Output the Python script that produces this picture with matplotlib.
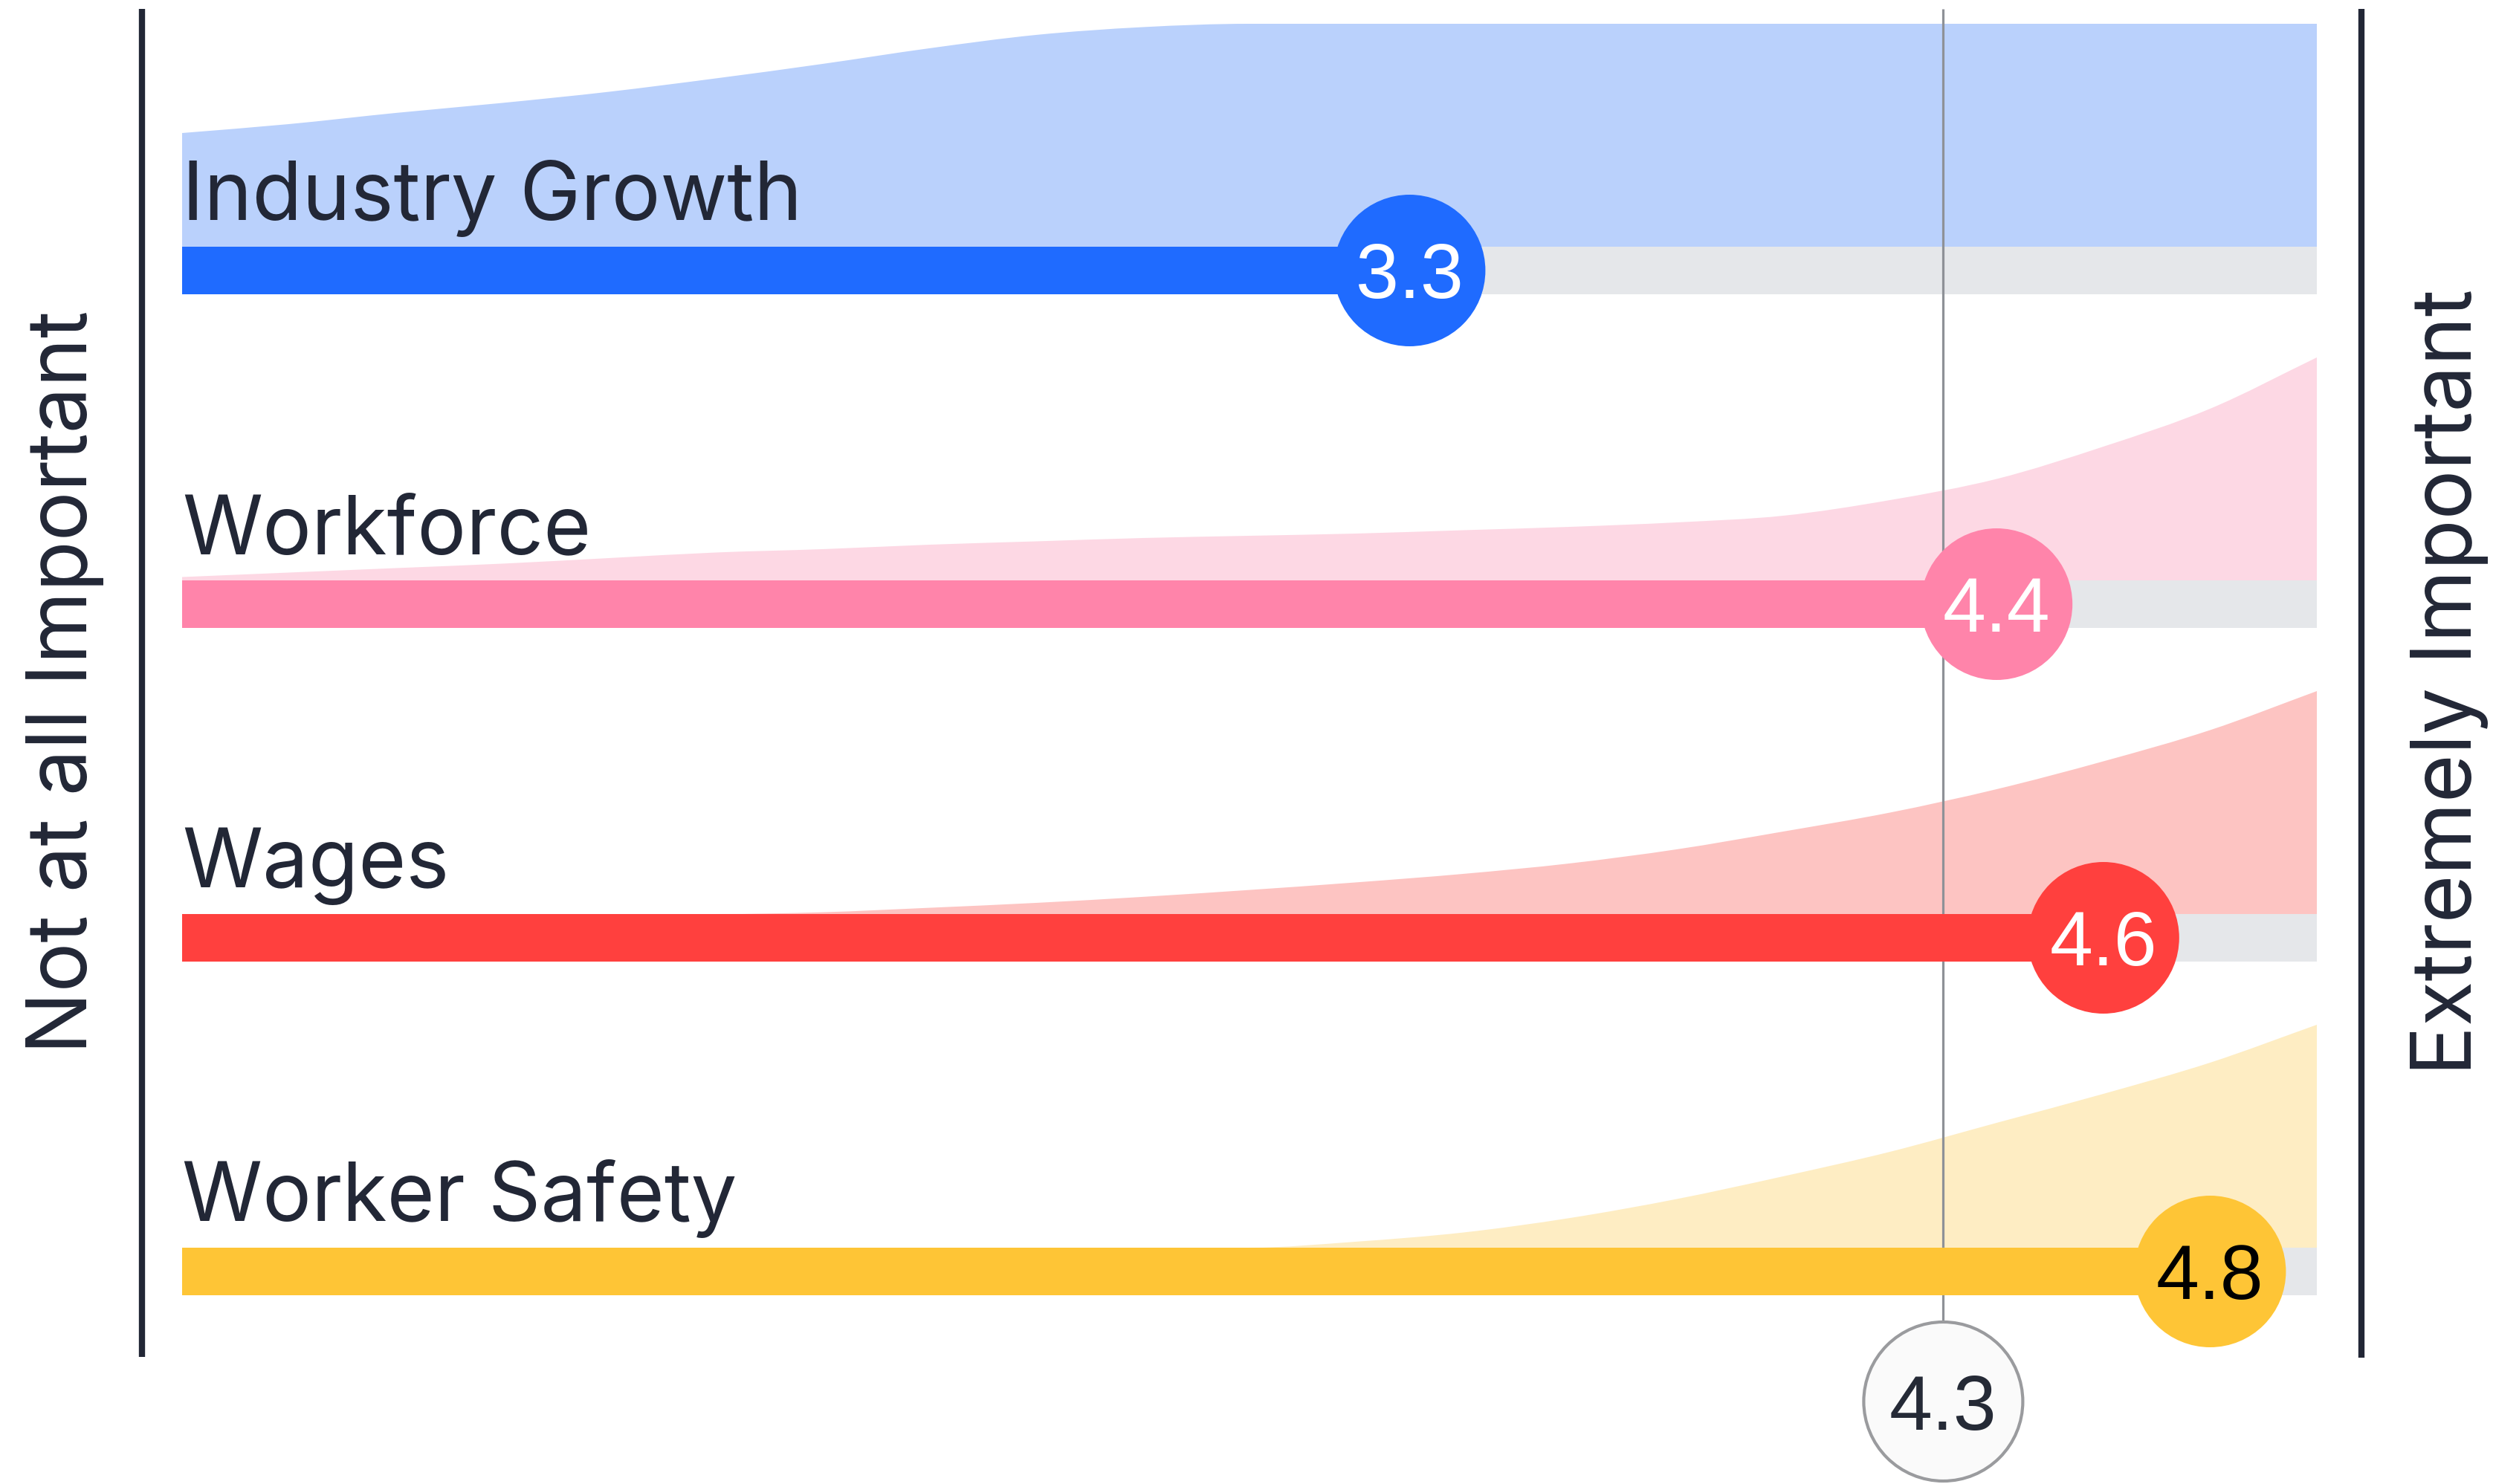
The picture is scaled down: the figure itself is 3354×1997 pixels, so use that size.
import matplotlib
matplotlib.use("Agg")
import matplotlib.pyplot as plt
from matplotlib.patches import Ellipse, PathPatch
from matplotlib.path import Path

# ---------------- data ----------------
categories = ["Industry Growth", "Workforce", "Wages", "Worker Safety"]
mean_scores = [3.3, 4.4, 4.6, 4.8]
overall_mean = 4.3
scale_min, scale_max = 1.0, 5.0
left_label = "Not at all Important"
right_label = "Extremely Important"

# response-distribution profile (relative height, 1 = tallest) at each scale point
scale_points = [1.0, 1.2, 1.4, 1.6, 1.8, 2.0, 2.2, 2.4, 2.6, 2.8, 3.0,
                3.2, 3.4, 3.6, 3.8, 4.0, 4.2, 4.4, 4.6, 4.8, 5.0]
dist_industry_growth = [0.51, 0.55, 0.60, 0.645, 0.695, 0.755, 0.82, 0.89, 0.95, 0.985, 1.0,
                        1.0, 1.0, 1.0, 1.0, 1.0, 1.0, 1.0, 1.0, 1.0, 1.0]
dist_workforce = [0.015, 0.035, 0.055, 0.075, 0.10, 0.125, 0.14, 0.16, 0.175, 0.19, 0.20,
                  0.21, 0.225, 0.24, 0.26, 0.29, 0.36, 0.455, 0.60, 0.77, 1.0]
dist_wages = [0.0, 0.0, 0.0, 0.0, 0.0, 0.0, 0.008, 0.028, 0.05, 0.077, 0.108,
              0.142, 0.18, 0.227, 0.29, 0.37, 0.455, 0.56, 0.685, 0.825, 1.0]
dist_worker_safety = [0.0, 0.0, 0.0, 0.0, 0.0, 0.0, 0.0, 0.0, 0.0, 0.0, 0.0,
                      0.027, 0.068, 0.133, 0.218, 0.32, 0.43, 0.56, 0.69, 0.83, 1.0]
distributions = [dist_industry_growth, dist_workforce, dist_wages, dist_worker_safety]

# ---------------- style ----------------
bar_colors = ["#1F6BFF", "#FF84AA", "#FF403E", "#FEC536"]
fill_colors = ["#BAD1FC", "#FDD8E4", "#FDC4C2", "#FEEDC3"]
value_text_colors = ["white", "white", "white", "black"]
track_color = "#E5E7EA"
axis_color = "#222736"
text_color = "#222736"
ref_color = "#8E9197"

W, H = 3354, 1997
PX_PER_UNIT = 718.0
X0_PX = 245.0
ROW0_CENTER = 364.0
ROW_GAP = 449.0
BAR_H = 64.0
FILL_H = 300.0
R = 102.0
LABEL_FONT = ["Inter", "DejaVu Sans"]
NUM_FONT = ["Liberation Sans", "DejaVu Sans"]

fig = plt.figure(figsize=(W / 100, H / 100), dpi=100)
fig.patch.set_facecolor("white")
ax = fig.add_axes([0, 0, 1, 1])
xmin = scale_min - X0_PX / PX_PER_UNIT
ax.set_xlim(xmin, xmin + W / PX_PER_UNIT)
ax.set_ylim(H, 0)
ax.axis("off")


def px_to_x(px):
    return xmin + px / PX_PER_UNIT


def smooth_area_path(xs, ys, base):
    """Closed path: smooth (monotone cubic Bezier) top edge through the points, flat base."""
    n = len(xs)
    h = [xs[k + 1] - xs[k] for k in range(n - 1)]
    d = [(ys[k + 1] - ys[k]) / h[k] for k in range(n - 1)]
    m = [0.0] * n
    m[0], m[-1] = d[0], d[-1]
    for k in range(1, n - 1):
        if d[k - 1] * d[k] <= 0:
            m[k] = 0.0
        else:
            m[k] = (d[k - 1] + d[k]) / 2
    for k in range(n - 1):
        if d[k] == 0:
            m[k] = m[k + 1] = 0.0
        else:
            a, b = m[k] / d[k], m[k + 1] / d[k]
            s = a * a + b * b
            if s > 9:
                t = 3 / s ** 0.5
                m[k], m[k + 1] = t * a * d[k], t * b * d[k]
    verts = [(xs[0], base), (xs[0], ys[0])]
    codes = [Path.MOVETO, Path.LINETO]
    for k in range(n - 1):
        verts += [(xs[k] + h[k] / 3, ys[k] + m[k] * h[k] / 3),
                  (xs[k + 1] - h[k] / 3, ys[k + 1] - m[k + 1] * h[k] / 3),
                  (xs[k + 1], ys[k + 1])]
        codes += [Path.CURVE4] * 3
    verts += [(xs[-1], base), (xs[0], base)]
    codes += [Path.LINETO, Path.CLOSEPOLY]
    return Path(verts, codes)


for i, (cat, m, dist) in enumerate(zip(categories, mean_scores, distributions)):
    yc = ROW0_CENTER + i * ROW_GAP
    top = yc - BAR_H / 2
    # distribution area sitting on top of the bar
    tops = [top - v * FILL_H for v in dist]
    ax.add_patch(PathPatch(smooth_area_path(scale_points, tops, top),
                           facecolor=fill_colors[i], lw=0, zorder=1))
    # grey track and colored bar
    ax.barh(yc, scale_max - scale_min, left=scale_min, height=BAR_H,
            color=track_color, lw=0, zorder=2)
    ax.barh(yc, m - scale_min, left=scale_min, height=BAR_H,
            color=bar_colors[i], lw=0, zorder=3)
    # value bubble
    ax.add_patch(Ellipse((m, yc), 2 * R / PX_PER_UNIT, 2 * R,
                         facecolor=bar_colors[i], lw=0, zorder=4))
    ax.text(m, yc + 37, f"{m:.1f}", ha="center", va="baseline",
            fontsize=75, family=NUM_FONT, color=value_text_colors[i], zorder=5)
    # category label
    ax.text(scale_min, top - 36, cat, ha="left", va="baseline",
            fontsize=79, family=LABEL_FONT, color=text_color, zorder=5)

# overall mean reference line and bubble
ref_cy, ref_r = 1886.0, 107.0
ax.plot([overall_mean, overall_mean], [12, ref_cy - ref_r], color=ref_color,
        lw=2.3, zorder=2.5, solid_capstyle="butt")
ax.add_patch(Ellipse((overall_mean, ref_cy), 2 * ref_r / PX_PER_UNIT, 2 * ref_r,
                     facecolor="#FAFAFA", edgecolor="#9A9B9E", lw=3, zorder=4))
ax.text(overall_mean, ref_cy + 38, f"{overall_mean:.1f}", ha="center", va="baseline",
        fontsize=75, family=NUM_FONT, color="#252A36", zorder=5)

# end axes
ax.plot([px_to_x(191), px_to_x(191)], [12, 1826], color=axis_color, lw=6,
        solid_capstyle="butt", zorder=3)
ax.plot([px_to_x(3177), px_to_x(3177)], [12, 1827], color=axis_color, lw=6,
        solid_capstyle="butt", zorder=3)

# end labels
ax.text(px_to_x(117), 918, left_label, rotation=90, rotation_mode="anchor",
        ha="center", va="baseline", fontsize=80, family=LABEL_FONT, color=text_color)
ax.text(px_to_x(3325), 918, right_label, rotation=90, rotation_mode="anchor",
        ha="center", va="baseline", fontsize=80, family=LABEL_FONT, color=text_color)

fig.savefig("out.png", dpi=100, facecolor="white")
